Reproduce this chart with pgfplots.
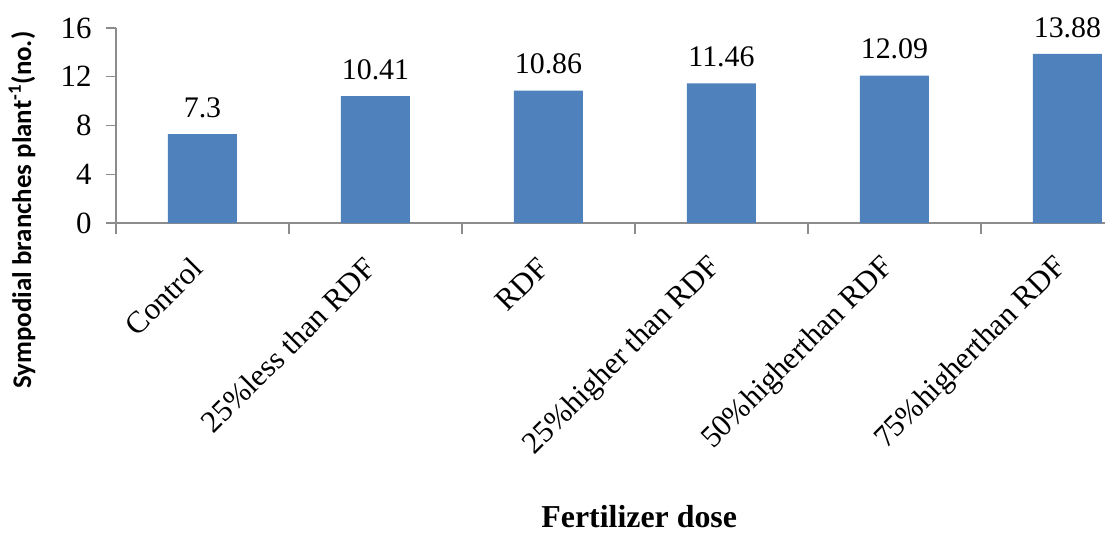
\documentclass[border=0pt]{standalone}
\usepackage{pgfplots}
\pgfplotsset{compat=1.18}
\usepackage{fontspec}
\setmainfont{Liberation Serif}
\newfontfamily\calibri{Carlito}
\definecolor{barblue}{HTML}{4F81BD}
\definecolor{axgray}{HTML}{8C8C8C}
\begin{document}
\begin{tikzpicture}
\begin{axis}[
  at={(0,0)}, anchor=south west,
  scale only axis, width=494.5bp, height=97.5bp,
  xmin=-0.5, xmax=5.217, ymin=0, ymax=16,
  ybar, bar width=34.5bp,
  axis x line*=bottom, axis y line*=left,
  axis line style={axgray, line width=0.7bp},
  ytick={0,4,8,12,16},
  xtick={0,...,5},
  xticklabels={Control, 25\%less than RDF, RDF, 25\%higher than RDF, 50\%higherthan RDF, 75\%higherthan RDF},
  minor xtick={-0.5,0.5,1.5,2.5,3.5,4.5},
  major x tick style={draw=none},
  tick style={axgray, line width=0.7bp},
  tick align=outside,
  major tick length=5bp, minor tick length=5.5bp,
  /pgf/number format/assume math mode=true,
  yticklabel style={font=\fontsize{15.5}{18}\selectfont, anchor=east, inner sep=0pt, xshift=-7bp},
  xticklabel style={font=\fontsize{15.5}{18}\selectfont, xshift=-2.5bp, yshift=-15bp, rotate=45, anchor=east, inner sep=0pt},
  ylabel={Sympodial branches plant\textsuperscript{-1}(no.)},
  ylabel style={font=\calibri\bfseries\fontsize{13.5}{16}\selectfont, at={(axis description cs:-0.0950,0.0667)}, anchor=center},
  xlabel={Fertilizer dose},
  xlabel style={font=\bfseries\fontsize{16}{19}\selectfont, at={(axis description cs:0.529,-1.564)}, anchor=base},
  nodes near coords,
  point meta=explicit symbolic,
  nodes near coords style={font=\fontsize{15}{18}\selectfont, anchor=south, inner sep=0pt, yshift=8bp},
]
\addplot[fill=barblue, draw=none] table[meta=label] {
x y label
0 7.3 7.3
1 10.41 10.41
2 10.86 10.86
3 11.46 11.46
4 12.09 12.09
5 13.88 13.88
};
\end{axis}
\pgfresetboundingbox
\useasboundingbox (-58bp,-155bp) rectangle (494.5bp,111.5bp);
\end{tikzpicture}
\end{document}
